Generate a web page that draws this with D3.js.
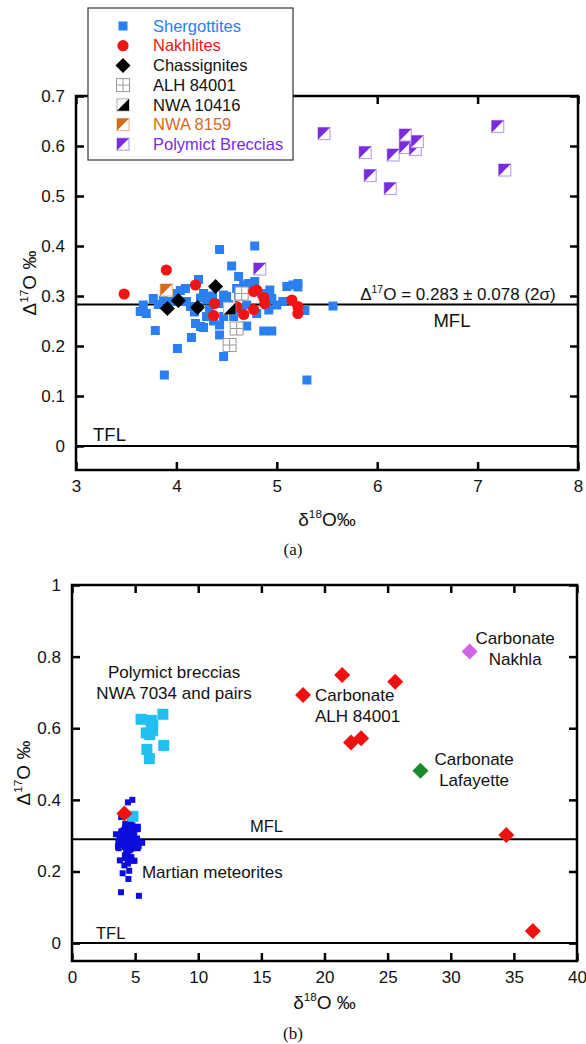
<!DOCTYPE html>
<html>
<head>
<meta charset="utf-8">
<script src="https://cdn.jsdelivr.net/npm/d3@7"></script>
<style>
  body { margin: 0; background: #fff; }
  svg { display: block; font-family: "Liberation Sans", Arial, sans-serif; }
</style>
</head>
<body>
<svg id="chart" width="586" height="1044"></svg>
<script>
// panel (a): d18O, D17O per meteorite group
const shergottites = [
  [4.43, 0.393], [4.78, 0.400], [4.55, 0.360], [4.62, 0.339], [4.22, 0.333], [4.78, 0.329],
  [4.72, 0.325], [4.67, 0.322], [4.60, 0.315], [4.93, 0.312], [5.10, 0.319], [5.16, 0.322],
  [5.21, 0.325], [5.21, 0.318], [4.04, 0.311], [4.09, 0.315], [3.77, 0.295], [3.67, 0.282],
  [3.64, 0.269], [3.70, 0.265], [3.87, 0.292], [3.94, 0.289], [4.10, 0.289], [4.14, 0.279],
  [4.27, 0.305], [4.30, 0.292], [4.33, 0.272], [4.30, 0.259], [4.47, 0.302], [4.50, 0.299],
  [4.43, 0.285], [4.57, 0.259], [4.47, 0.259], [4.70, 0.282], [4.80, 0.265], [4.90, 0.282],
  [4.95, 0.295], [4.92, 0.272], [5.00, 0.282], [5.06, 0.289], [5.28, 0.271], [5.56, 0.280],
  [4.19, 0.245], [4.24, 0.239], [4.27, 0.237], [4.43, 0.242], [4.70, 0.240], [4.87, 0.230],
  [4.95, 0.230], [3.79, 0.231], [4.15, 0.217], [4.43, 0.222], [4.01, 0.195], [4.47, 0.179],
  [3.88, 0.142], [5.30, 0.132], [4.00, 0.305], [4.36, 0.300], [4.62, 0.300], [4.85, 0.305],
  [4.52, 0.283], [4.18, 0.268], [4.37, 0.250], [4.65, 0.275], [4.24, 0.296], [3.82, 0.283]
];
const nakhlites = [
  [3.48, 0.304], [3.90, 0.352], [4.19, 0.322], [4.38, 0.285], [4.37, 0.261], [4.60, 0.279],
  [4.67, 0.263], [4.77, 0.273], [4.77, 0.309], [4.80, 0.312], [4.87, 0.297], [4.88, 0.285],
  [5.15, 0.292], [5.21, 0.279], [5.21, 0.265]
];
const chassignites = [[3.91, 0.275], [4.02, 0.291], [4.21, 0.277], [4.39, 0.319]];
const alh84001 = [[4.65, 0.305], [4.60, 0.235], [4.53, 0.202]];
const nwa10416 = [[4.53, 0.275]];
const nwa8159 = [[3.90, 0.312]];
const polymictBreccias = [
  [5.47, 0.625], [5.88, 0.587], [5.93, 0.541], [6.13, 0.515], [6.16, 0.582], [6.28, 0.622],
  [6.28, 0.597], [6.38, 0.593], [6.40, 0.609], [7.20, 0.639], [7.27, 0.552], [4.83, 0.354]
];
const mflA = 0.283;

// panel (b): carbonates
const carbonateALH = [
  [18.3, 0.693], [21.4, 0.749], [25.6, 0.730], [22.1, 0.560], [22.9, 0.572],
  [34.4, 0.302], [36.5, 0.034], [4.15, 0.362]
];
const carbonateNakhla = [[31.5, 0.814]];
const carbonateLafayette = [[27.6, 0.481]];
const mflB = 0.29;

const xTicksA = [3, 4, 5, 6, 7, 8];
const yTicksA = [0, 0.1, 0.2, 0.3, 0.4, 0.5, 0.6, 0.7];
const xTicksB = [0, 5, 10, 15, 20, 25, 30, 35, 40];
const yTicksB = [0, 0.2, 0.4, 0.6, 0.8, 1];

const BLUE = '#2a80f2';
const RED = '#f01414';
const ORANGE = '#d46a1c';
const PURPLE = '#7a2be0';

const svg = d3.select('#chart');

const xA = d3.scaleLinear([3, 8], [76, 578]);
const yA = d3.scaleLinear([-0.048, 0.7], [470, 96]);
const xB = d3.scaleLinear([0, 40], [72, 577]);
const yB = d3.scaleLinear([-0.05, 1], [961, 585]);

function frame(x, y, xTicks, yTicks) {
  const [x0, x1] = x.range();
  const [y0, y1] = y.range();
  const g = svg.append('g');
  const fmt = d3.format('~g');

  g.append('g').attr('transform', `translate(0,${y0})`)
    .call(d3.axisBottom(x).tickValues(xTicks).tickSize(-8).tickPadding(10).tickFormat(fmt));
  g.append('g').attr('transform', `translate(0,${y1})`)
    .call(d3.axisTop(x).tickValues(xTicks).tickSize(-8).tickFormat(''));
  g.append('g').attr('transform', `translate(${x0},0)`)
    .call(d3.axisLeft(y).tickValues(yTicks).tickSize(-8).tickPadding(11).tickFormat(fmt));
  g.append('g').attr('transform', `translate(${x1},0)`)
    .call(d3.axisRight(y).tickValues(yTicks).tickSize(-8).tickFormat(''));

  g.selectAll('.domain').remove();
  g.selectAll('.tick line').attr('stroke', '#000').attr('stroke-width', 2.5);
  g.selectAll('.tick text')
    .attr('fill', '#111')
    .attr('font-size', 17)
    .attr('font-family', '"Liberation Sans", Arial, sans-serif');

  g.append('rect')
    .attr('x', x0).attr('y', y1)
    .attr('width', x1 - x0).attr('height', y0 - y1)
    .attr('fill', 'none').attr('stroke', '#000').attr('stroke-width', 2.5);
  return g;
}

function refLine(x, y, value) {
  svg.append('line')
    .attr('x1', x.range()[0]).attr('x2', x.range()[1])
    .attr('y1', y(value)).attr('y2', y(value))
    .attr('stroke', '#000').attr('stroke-width', 2);
}

// text with a small raised superscript, e.g. "Δ" "17" "O ‰"
function supText(parent, pre, sup, post, size) {
  const t = parent.append('text').attr('font-size', size).attr('fill', '#111');
  t.append('tspan').text(pre);
  t.append('tspan').attr('dy', -size * 0.4).attr('font-size', size * 0.62).text(sup);
  t.append('tspan').attr('dy', size * 0.4).text(post);
  return t;
}

function label(x, y, dx, dy, lines, anchor, size = 17) {
  const t = svg.append('text')
    .attr('x', x(dx)).attr('y', y(dy))
    .attr('font-size', size).attr('fill', '#111')
    .attr('text-anchor', anchor);
  lines.forEach((s, i) => t.append('tspan').attr('x', x(dx)).attr('dy', i ? 20.5 : 0).text(s));
}

const markers = {
  square: (g, color, s) => g.append('rect')
    .attr('x', -s / 2).attr('y', -s / 2).attr('width', s).attr('height', s).attr('fill', color),
  circle: (g, color) => g.append('circle').attr('r', 5.6).attr('fill', color),
  diamond: (g, color, h) => g.append('path')
    .attr('d', `M0,${-h}L${h},0L0,${h}L${-h},0Z`).attr('fill', color),
  grid: (g) => {
    g.append('rect').attr('x', -6.5).attr('y', -6.5).attr('width', 13).attr('height', 13)
      .attr('fill', '#fff').attr('stroke', '#9a9a9a').attr('stroke-width', 1);
    g.append('path').attr('d', 'M0,-6.5V6.5M-6.5,0H6.5')
      .attr('stroke', '#9a9a9a').attr('stroke-width', 1);
  },
  // half-filled square; corner = 'ul' (upper-left triangle) or 'lr'
  half: (g, color, border, corner) => {
    const h = 6;
    g.append('rect').attr('x', -h).attr('y', -h).attr('width', 2 * h).attr('height', 2 * h)
      .attr('fill', '#fff').attr('stroke', border).attr('stroke-width', 1.2);
    g.append('path')
      .attr('d', corner === 'ul'
        ? `M${-h},${-h}L${h},${-h}L${-h},${h}Z`
        : `M${h},${-h}L${h},${h}L${-h},${h}Z`)
      .attr('fill', color);
  }
};

const groupsA = [
  { name: 'Shergottites', data: shergottites, text: BLUE, draw: g => markers.square(g, BLUE, 9) },
  { name: 'ALH 84001', data: alh84001, text: '#111', draw: g => markers.grid(g) },
  { name: 'Nakhlites', data: nakhlites, text: RED, draw: g => markers.circle(g, RED) },
  { name: 'Chassignites', data: chassignites, text: '#111', draw: g => markers.diamond(g, '#000', 7.5) },
  { name: 'NWA 10416', data: nwa10416, text: '#111', draw: g => markers.half(g, '#000', '#bbb', 'lr') },
  { name: 'NWA 8159', data: nwa8159, text: ORANGE, draw: g => markers.half(g, ORANGE, '#e9bb95', 'ul') },
  { name: 'Polymict Breccias', data: polymictBreccias, text: PURPLE, draw: g => markers.half(g, PURPLE, '#bda5ee', 'ul') }
];

function plotPoints(x, y, data, draw) {
  svg.append('g').selectAll('g')
    .data(data)
    .join('g')
    .attr('transform', d => `translate(${x(d[0])},${y(d[1])})`)
    .each(function () { draw(d3.select(this)); });
}

// ---- panel (a)
frame(xA, yA, xTicksA, yTicksA);
refLine(xA, yA, mflA);
refLine(xA, yA, 0);

groupsA.forEach(grp => plotPoints(xA, yA, grp.data, grp.draw));

supText(svg, 'Δ', '17', `O = ${mflA} ± 0.078 (2σ)`, 17)
  .attr('x', xA(5.83)).attr('y', yA(0.292));
label(xA, yA, 6.56, 0.238, ['MFL'], 'start', 18.5);
label(xA, yA, 3.17, 0.01, ['TFL'], 'start', 18.5);

supText(svg, 'δ', '18', 'O‰', 19)
  .attr('x', d3.mean(xA.range())).attr('y', 526).attr('text-anchor', 'middle');
supText(svg, 'Δ', '17', 'O ‰', 19)
  .attr('text-anchor', 'middle')
  .attr('transform', `translate(36,${d3.mean(yA.range())}) rotate(-90)`);
svg.append('text').attr('x', 293).attr('y', 555).attr('text-anchor', 'middle')
  .attr('font-family', '"Liberation Serif", "Times New Roman", serif')
  .attr('font-size', 17).attr('fill', '#111').text('(a)');

// legend
const legendOrder = ['Shergottites', 'Nakhlites', 'Chassignites', 'ALH 84001', 'NWA 10416', 'NWA 8159', 'Polymict Breccias'];
const legend = svg.append('g').attr('transform', 'translate(88,8)');
legend.append('rect').attr('width', 205).attr('height', 152)
  .attr('fill', '#fff').attr('stroke', '#444').attr('stroke-width', 1.3);
legendOrder.forEach((name, i) => {
  const grp = groupsA.find(d => d.name === name);
  const row = legend.append('g').attr('transform', `translate(0,${18 + i * 19.7})`);
  grp.draw(row.append('g').attr('transform', 'translate(35,0)'));
  row.append('text').attr('x', 65).attr('dy', '0.35em')
    .attr('font-size', 16.5).attr('fill', grp.text).text(name);
});

// ---- panel (b)
frame(xB, yB, xTicksB, yTicksB);
refLine(xB, yB, mflB);
refLine(xB, yB, 0);

const martian = [].concat(shergottites, nakhlites, chassignites, alh84001, nwa10416, nwa8159);
plotPoints(xB, yB, martian, g => markers.square(g, '#0c0cdc', 6));
plotPoints(xB, yB, polymictBreccias, g => markers.square(g, '#22bff2', 11));
plotPoints(xB, yB, carbonateALH, g => markers.diamond(g, '#f01010', 8));
plotPoints(xB, yB, carbonateNakhla, g => markers.diamond(g, '#d064e6', 8));
plotPoints(xB, yB, carbonateLafayette, g => markers.diamond(g, '#1b8a2a', 8));

label(xB, yB, 8.08, 0.74, ['Polymict breccias', 'NWA 7034 and pairs'], 'middle');
label(xB, yB, 19.25, 0.676, ['Carbonate', 'ALH 84001'], 'start');
label(xB, yB, 35.1, 0.835, ['Carbonate', 'Nakhla'], 'middle');
label(xB, yB, 31.85, 0.497, ['Carbonate', 'Lafayette'], 'middle');
label(xB, yB, 5.54, 0.182, ['Martian meteorites'], 'start');
label(xB, yB, 14.1, 0.31, ['MFL'], 'start', 16.5);
label(xB, yB, 1.9, 0.011, ['TFL'], 'start', 16.5);

supText(svg, 'δ', '18', 'O ‰', 19)
  .attr('x', d3.mean(xB.range())).attr('y', 1009).attr('text-anchor', 'middle');
supText(svg, 'Δ', '17', 'O ‰', 19)
  .attr('text-anchor', 'middle')
  .attr('transform', `translate(30,${d3.mean(yB.range())}) rotate(-90)`);
svg.append('text').attr('x', 293).attr('y', 1039).attr('text-anchor', 'middle')
  .attr('font-family', '"Liberation Serif", "Times New Roman", serif')
  .attr('font-size', 17).attr('fill', '#111').text('(b)');
</script>
</body>
</html>
